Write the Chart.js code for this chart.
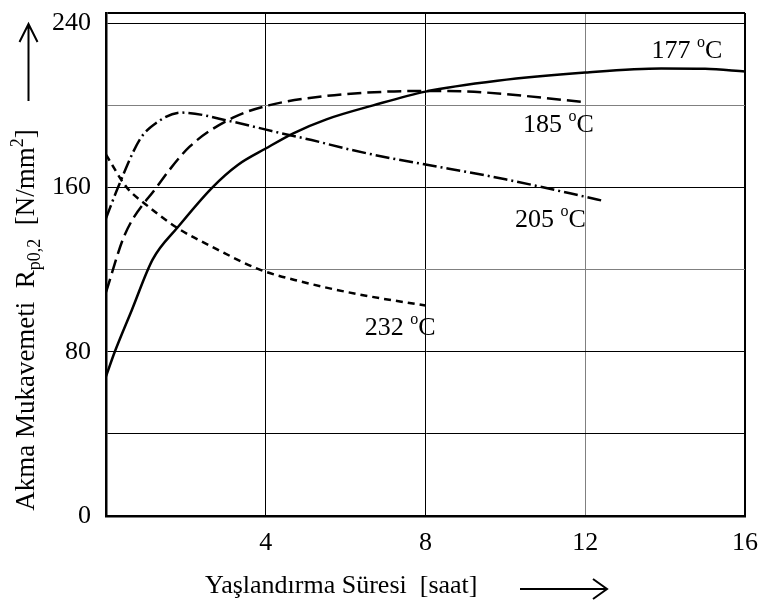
<!DOCTYPE html>
<html>
<head>
<meta charset="utf-8">
<script src="https://cdn.jsdelivr.net/npm/chart.js@4/dist/chart.umd.min.js"></script>
<style>
html,body{margin:0;padding:0;background:#fff;}
canvas{display:block;}
</style>
</head>
<body>
<canvas id="c" width="768" height="603"></canvas>
<script>
// ---- data ----
const x177 = [0, 0.22, 0.64, 1.17, 1.79, 2.66, 3.3, 4, 4.69, 5.52, 6.69, 8, 9.8, 12, 13.9, 15, 16];
const y177 = [68, 80, 100, 125, 140.5, 160, 171, 179, 186.4, 193.2, 200, 206.7, 212, 216, 218, 217.8, 216.5];

const x185 = [0, 0.47, 1.26, 2.1, 3.18, 4.07, 5.52, 7.03, 8, 9, 10, 12];
const y185 = [109, 137, 160, 180, 194, 200, 204.6, 206.7, 207, 206.8, 205.5, 201.5];

const x205 = [0, 0.3, 0.85, 1.26, 1.88, 3.18, 4.15, 5.15, 6.15, 7.15, 8, 10, 12, 12.45];
const y205 = [145, 160, 183.5, 191.5, 196.5, 192, 187.5, 183.1, 178.3, 174.2, 171.2, 164, 155.5, 153.5];

const x232 = [0, 0.52, 0.98, 1.77, 2.77, 3.85, 4.86, 6.37, 8];
const y232 = [176, 160, 152, 140.5, 130, 120, 114.3, 107.8, 102.5];

const curveNames = ['177', '185', '205', '232'];
// label anchors (data coordinates)
const labelX = [13.66, 10.44, 10.24, 6.48];
const labelY = [222.9, 187.0, 140.8, 88.1];

const xGridValues = [0, 4, 8, 12, 16];
const xTickLabels = [4, 8, 12, 16];
const yGridValues = [0, 40, 80, 120, 160, 200, 240];
const yTickLabels = [0, 80, 160, 240];
const yFrameTop = 245;

const xTitle = 'Yaşlandırma Süresi  [saat]';

// ---- helpers ----
const FONT = '"Liberation Serif", "Times New Roman", serif';
function pts(xs, ys) { return xs.map((x, i) => ({x: x, y: ys[i]})); }
function richWidth(ctx, parts) {
  let w = 0;
  parts.forEach(p => { ctx.font = p.size + 'px ' + FONT; w += ctx.measureText(p.t).width; });
  return w;
}
function drawRich(ctx, parts, x, y) {
  let cx = x;
  parts.forEach(p => {
    ctx.font = p.size + 'px ' + FONT;
    ctx.fillText(p.t, cx, y + (p.dy || 0));
    cx += ctx.measureText(p.t).width;
  });
}

const annotationPlugin = {
  id: 'annot',
  afterDraw(chart) {
    const ctx = chart.ctx;
    const xs = chart.scales.x, ys = chart.scales.y;
    ctx.save();
    ctx.fillStyle = '#000';
    ctx.strokeStyle = '#000';
    ctx.textAlign = 'left';
    ctx.textBaseline = 'alphabetic';

    // curve labels
    const L = 26;
    curveNames.forEach((n, i) => {
      const px = xs.getPixelForValue(labelX[i]);
      const py = ys.getPixelForValue(labelY[i]);
      drawRich(ctx, [
        {t: n + ' ', size: L},
        {t: 'o', size: Math.round(L * 0.62), dy: -L * 0.42},
        {t: 'C', size: L}
      ], px, py);
    });

    // x axis title + arrow
    const XT = 26;
    ctx.font = XT + 'px ' + FONT;
    ctx.fillText(xTitle, 205, 593);
    ctx.lineWidth = 2;
    ctx.beginPath();
    ctx.moveTo(520, 589); ctx.lineTo(606, 589);
    ctx.moveTo(593, 579); ctx.lineTo(607, 589); ctx.lineTo(593, 599);
    ctx.stroke();

    // y axis title (rotated) + arrow
    const YT = 27;
    const yParts = [
      {t: 'Akma Mukavemeti  R', size: YT},
      {t: 'p0,2', size: Math.round(YT * 0.65), dy: YT * 0.22},
      {t: '  [N/mm', size: YT},
      {t: '2', size: Math.round(YT * 0.65), dy: -YT * 0.42},
      {t: ']', size: YT}
    ];
    const w = richWidth(ctx, yParts);
    ctx.save();
    ctx.translate(34, 320);
    ctx.rotate(-Math.PI / 2);
    drawRich(ctx, yParts, -w / 2, 0);
    ctx.restore();

    ctx.beginPath();
    ctx.moveTo(28.5, 101); ctx.lineTo(28.5, 25);
    ctx.moveTo(19.5, 42); ctx.lineTo(28.5, 24); ctx.lineTo(37.5, 42);
    ctx.stroke();
    ctx.restore();
  }
};

function ds(xs, ys, dash) {
  return {
    data: pts(xs, ys),
    borderColor: '#000',
    borderWidth: 2.5,
    borderDash: dash,
    pointRadius: 0,
    fill: false,
    cubicInterpolationMode: 'monotone'
  };
}

new Chart(document.getElementById('c'), {
  type: 'line',
  data: {
    datasets: [
      ds(x177, y177, []),
      ds(x185, y185, [14, 6]),
      ds(x205, y205, [14, 4, 2, 4]),
      ds(x232, y232, [7, 5])
    ]
  },
  options: {
    responsive: false,
    animation: false,
    layout: {padding: {top: 13, right: 23, left: 0, bottom: 0}},
    plugins: {legend: {display: false}, tooltip: {enabled: false}},
    scales: {
      x: {
        type: 'linear',
        min: 0, max: 16,
        afterBuildTicks: s => { s.ticks = xGridValues.map(v => ({value: v})); },
        afterFit: s => { s.height = 87; s.paddingLeft = 0; s.paddingRight = 0; },
        grid: {
          drawTicks: false,
          color: c => (c.tick && c.tick.value === 12) ? '#808080' : '#000',
          lineWidth: c => (c.tick && c.tick.value === 16) ? 2 : 1
        },
        border: {display: true, color: '#000', width: 2.5},
        ticks: {
          padding: 12,
          color: '#000',
          font: {family: FONT, size: 26},
          maxRotation: 0,
          autoSkip: false,
          callback: v => xTickLabels.includes(v) ? String(v) : ''
        }
      },
      y: {
        min: 0, max: yFrameTop,
        afterBuildTicks: s => { s.ticks = yGridValues.concat([yFrameTop]).map(v => ({value: v})); },
        afterFit: s => { s.width = 106; s.paddingTop = 0; s.paddingBottom = 0; },
        grid: {
          drawTicks: false,
          color: c => (c.tick && (c.tick.value === 200 || c.tick.value === 120)) ? '#808080' : '#000',
          lineWidth: c => (c.tick && c.tick.value === yFrameTop) ? 2 : 1
        },
        border: {display: true, color: '#000', width: 2.5},
        ticks: {
          padding: 15,
          color: '#000',
          font: {family: FONT, size: 26},
          autoSkip: false,
          callback: v => yTickLabels.includes(v) ? String(v) : ''
        }
      }
    }
  },
  plugins: [annotationPlugin]
});
</script>
</body>
</html>
